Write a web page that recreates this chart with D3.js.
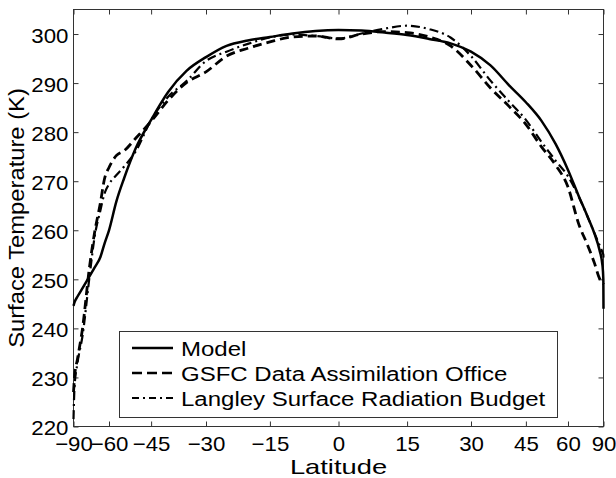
<!DOCTYPE html>
<html>
<head>
<meta charset="utf-8">
<script src="https://cdn.jsdelivr.net/npm/d3@7"></script>
<style>
  body { margin: 0; background: #fff; }
  svg { display: block; font-family: "Liberation Sans", Arial, Helvetica, sans-serif; }
</style>
</head>
<body>
<svg id="chart" width="616" height="478"></svg>
<script>
// latitude (deg) and surface temperature (K)
const lat = [-90, -85, -80, -75, -70, -67, -64, -62, -60, -57, -54, -50, -45, -40, -35, -30, -25, -20, -15, -10, -5,
  0, 5, 10, 15, 20, 25, 30, 35, 40, 45, 50, 55, 60, 65, 70, 75, 80, 85, 88, 90]
const model = [244.6, 245.3, 246.5, 248.2, 250.6, 252.4, 254.5, 257.3, 260, 265.8, 270.6, 276.6, 282.5, 288.2, 292.5, 295.3, 297.6, 298.7, 299.4, 300.1, 300.6,
  300.8, 300.7, 300.3, 299.8, 299.0, 298.1, 296.4, 293.6, 289.6, 286.1, 282.3, 277.6, 272.3, 267, 262.8, 259.3, 256, 252.8, 250, 244]
const gsfc = [227, 230, 233.8, 240, 252.5, 259.5, 265.5, 270.5, 272.8, 275.2, 276.2, 278.7, 282.2, 286.5, 290.1, 292.3, 295.5, 297.1, 298.4, 299.4, 299.6,
  299.0, 300.0, 300.5, 300.3, 299.4, 297.6, 293.6, 289.0, 285.3, 281.6, 277.0, 273.3, 268.8, 261.3, 257, 253.3, 250.2, 249.3, 249.1, 249]
const langley = [221.5, 228, 233, 238.5, 250.5, 258.6, 264, 267.5, 269.4, 271.2, 273, 276, 282.5, 287.2, 290.4, 294.5, 296.4, 298, 299.3, 299.9, 299.6,
  299.1, 300.1, 301.1, 301.7, 301.0, 299.3, 295.5, 290.5, 286.3, 282.5, 278, 274.2, 271, 266.9, 262.8, 259.4, 257, 255.5, 255, 254]

const xTicks = [-90, -60, -45, -30, -15, 0, 15, 30, 45, 60, 90]
const xTickLabels = ["\u221290", "\u221260", "\u221245", "\u221230", "\u221215", "0", "15", "30", "45", "60", "90"]
const yTicks = [220, 230, 240, 250, 260, 270, 280, 290, 300]
const seriesNames = ["Model", "GSFC Data Assimilation Office", "Langley Surface Radiation Budget"]

const L = 73.5, R = 603.5, T = 9.5, B = 426.5
const svg = d3.select("#chart")

const sinDeg = d => Math.sin(d * Math.PI / 180)
// the x axis is linear in sin(latitude)
const x = d3.scaleLinear().domain([-1, 1]).range([L, R])
const y = d3.scaleLinear().domain([220, 305]).range([B, T])

const styles = [
  {width: 2.5, dash: null},
  {width: 2.8, dash: "9,5"},
  {width: 2.2, dash: "9,4,2,4"}
]

// the original lettering is a little wider than Liberation Sans
function widen(sel, k) {
  sel.each(function () {
    const w = this.getComputedTextLength()
    d3.select(this).attr("textLength", w * k).attr("lengthAdjust", "spacingAndGlyphs")
  })
}

// axes, ticks pointing inward on all four sides
const fmtX = (v, i) => xTickLabels[i]
const axB = svg.append("g").attr("transform", `translate(0,${B})`)
  .call(d3.axisBottom(x).tickValues(xTicks.map(sinDeg)).tickFormat(fmtX).tickSizeInner(-5).tickSizeOuter(0).tickPadding(10))
const axT = svg.append("g").attr("transform", `translate(0,${T})`)
  .call(d3.axisTop(x).tickValues(xTicks.map(sinDeg)).tickFormat("").tickSizeInner(-5).tickSizeOuter(0))
const axL = svg.append("g").attr("transform", `translate(${L},0)`)
  .call(d3.axisLeft(y).tickValues(yTicks).tickSizeInner(-5).tickSizeOuter(0).tickPadding(5))
const axR = svg.append("g").attr("transform", `translate(${R},0)`)
  .call(d3.axisRight(y).tickValues(yTicks).tickFormat("").tickSizeInner(-5).tickSizeOuter(0))

;[axB, axT, axL, axR].forEach(g => {
  g.select(".domain").remove()
  g.selectAll(".tick line").attr("stroke", "#333")
  g.selectAll(".tick text").attr("fill", "#000").style("font-size", "21px")
})
axL.selectAll(".tick text").attr("dy", "0.4em")
widen(axB.selectAll(".tick text"), 1.06)
widen(axL.selectAll(".tick text"), 1.06)

svg.append("rect")
  .attr("x", L).attr("y", T).attr("width", R - L).attr("height", B - T)
  .attr("fill", "none").attr("stroke", "#333").attr("stroke-width", 1)

const line = vals => d3.line()
  .x((d, i) => x(sinDeg(lat[i])))
  .y(d => y(d))
  .curve(d3.curveMonotoneX)(vals)

;[model, gsfc, langley].forEach((vals, k) => {
  svg.append("path")
    .attr("d", line(vals))
    .attr("fill", "none")
    .attr("stroke", "#000")
    .attr("stroke-width", styles[k].width)
    .attr("stroke-dasharray", styles[k].dash)
})

// legend
const lg = svg.append("g")
lg.append("rect")
  .attr("x", 119.5).attr("y", 331.5).attr("width", 438).attr("height", 86)
  .attr("fill", "#fff").attr("stroke", "#333").attr("stroke-width", 1)
seriesNames.forEach((name, k) => {
  const cy = 348 + k * 25
  lg.append("line")
    .attr("x1", 132).attr("x2", 173).attr("y1", cy).attr("y2", cy)
    .attr("stroke", "#000")
    .attr("stroke-width", k === 2 ? 1.8 : 2.5)
    .attr("stroke-dasharray", k === 1 ? "10,5" : k === 2 ? "7,4,2,4" : null)
  lg.append("text")
    .attr("class", "legend-text")
    .attr("x", 181).attr("y", cy + 8)
    .style("font-size", "20px")
    .text(name)
})
widen(lg.selectAll(".legend-text"), 1.2)

const xl = svg.append("text")
  .attr("x", (L + R) / 2).attr("y", 474)
  .attr("text-anchor", "middle")
  .style("font-size", "21px")
  .text("Latitude")
widen(xl, 1.3)

const yl = svg.append("text")
  .attr("transform", "translate(24,218) rotate(-90)")
  .attr("text-anchor", "middle")
  .style("font-size", "22px")
  .text("Surface Temperature (K)")
widen(yl, 1.08)
</script>
</body>
</html>
